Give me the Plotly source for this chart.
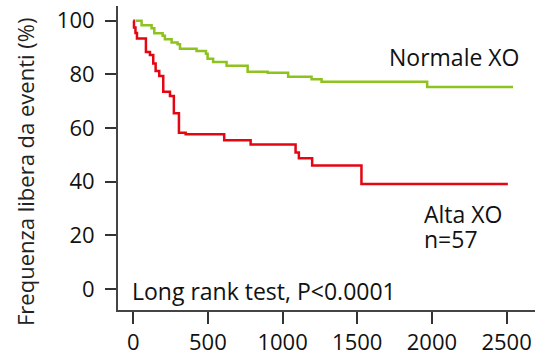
import plotly.graph_objects as go

# Normale XO (green) Kaplan-Meier steps
normal_t = [18, 56, 123, 141, 197, 212, 257, 297, 313, 424, 487, 498, 535, 625, 766, 900, 1037, 1194, 1261, 1968, 2543]
normal_s = [100, 98.3, 97.2, 95.3, 94.4, 93.1, 91.9, 91.2, 89.6, 88.7, 87.7, 85.8, 84.6, 83.2, 81.0, 80.6, 79.1, 78.2, 77.3, 75.3, 75.3]

# Alta XO (red) Kaplan-Meier steps
alta_t = [0, 5, 15, 25, 85, 112, 134, 150, 174, 201, 246, 272, 306, 351, 609, 786, 1087, 1109, 1198, 1528, 2500]
alta_s = [100, 97.5, 95.4, 93.4, 88.4, 87.2, 84.1, 81.3, 79.4, 73.5, 72.0, 65.5, 58.3, 57.7, 55.5, 53.9, 50.9, 48.8, 46.1, 39.2, 39.6]

x_ticks = [0, 500, 1000, 1500, 2000, 2500]
y_ticks = [0, 20, 40, 60, 80, 100]

FONT = "Open Sans"
fig = go.Figure()
fig.add_trace(go.Scatter(x=normal_t, y=normal_s, mode="lines", line_shape="hv",
                         line=dict(color="#8DC21F", width=2.5), showlegend=False, hoverinfo="skip"))
fig.add_trace(go.Scatter(x=alta_t, y=alta_s, mode="lines", line_shape="hv",
                         line=dict(color="#E30613", width=2.5), showlegend=False, hoverinfo="skip"))

fig.add_annotation(x=2600, y=86.5, text="Normale XO", showarrow=False, xanchor="right",
                   font=dict(family=FONT, size=23, color="#111"))
fig.add_annotation(x=1932, y=27.8, text="Alta XO", showarrow=False, xanchor="left",
                   font=dict(family=FONT, size=23, color="#111"))
fig.add_annotation(x=1932, y=18.8, text="n=57", showarrow=False, xanchor="left",
                   font=dict(family=FONT, size=23, color="#111"))
fig.add_annotation(x=-20, y=-0.8, text="Long rank test, P<0.0001", showarrow=False, xanchor="left",
                   font=dict(family=FONT, size=23, color="#111"))
# y-axis title
fig.add_annotation(xref="paper", yref="paper", x=-0.223, y=0.454, xanchor="center", yanchor="middle",
                   text="Frequenza libera da eventi (%)",
                   textangle=-90, showarrow=False, font=dict(family=FONT, size=22, color="#222"))

fig.update_layout(
    width=535, height=356,
    margin=dict(l=118, r=0, t=6, b=46, autoexpand=False),
    paper_bgcolor="white", plot_bgcolor="white",
    font=dict(family=FONT, size=22, color="#111"),
    xaxis=dict(range=[-102, 2690], tickvals=x_ticks, ticks="outside", ticklen=12, tickwidth=1.5,
               tickcolor="#333", showline=True, linecolor="#444", linewidth=2, showgrid=False,
               zeroline=False, automargin=False, tickfont=dict(family=FONT, size=22, color="#111")),
    yaxis=dict(range=[-7.8, 105.5], tickvals=y_ticks, ticks="outside", ticklen=11, tickwidth=1.5,
               tickcolor="#333", showline=True, linecolor="#444", linewidth=2, showgrid=False,
               zeroline=False, automargin=False, ticklabelstandoff=6,
               tickfont=dict(family=FONT, size=22, color="#111")),
)
fig.write_html("out.html", config={"displayModeBar": False},
               post_script="document.body.style.margin='0';")
